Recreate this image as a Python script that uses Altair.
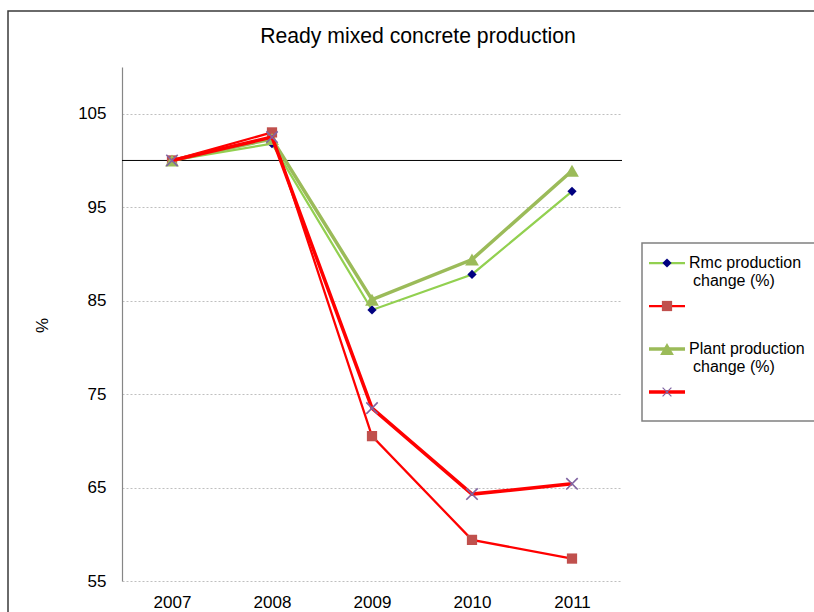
import altair as alt
import pandas as pd

# ---- data ----
years = ["2007", "2008", "2009", "2010", "2011"]
rmc = [100, 101.8, 84.0, 87.8, 96.7]
red_sq = [100, 103.0, 70.5, 59.4, 57.4]
plant = [100, 102.3, 85.1, 89.4, 98.9]
red_x = [100, 102.5, 73.5, 64.3, 65.4]
y_ticks = [55, 65, 75, 85, 95, 105]
title_text = "Ready mixed concrete production"
legend_lines = [["Rmc production", "change (%)"], [], ["Plant  production", "change (%)"], []]

FONT = "Liberation Sans"
X_PATH = "M-1,-1L1,1M1,-1L-1,1"

series = [
    dict(vals=rmc, lc="#92D050", lw=2.25, shape="diamond", mc="#000080", ms=85, filled=True),
    dict(vals=red_sq, lc="#FF0000", lw=2.25, shape="square", mc="#C0504D", ms=105, filled=True),
    dict(vals=plant, lc="#9BBB59", lw=3.5, shape="triangle-up", mc="#9BBB59", ms=190, filled=True),
    dict(vals=red_x, lc="#FF0000", lw=3.5, shape=X_PATH, mc="#8064A2", ms=130, filled=False),
]

xscale = alt.Scale(type="point", domain=years, padding=0.5)
yscale = alt.Scale(domain=[55, 110], nice=False, zero=False)
xaxis = alt.Axis(title=None, labelAngle=0, ticks=False, domain=False, grid=False,
                 labelPadding=13, labelFontSize=17, labelColor="#000000", labelFont=FONT)
yaxis = alt.Axis(values=y_ticks, grid=True, gridDash=[2, 2], gridColor="#BFBFBF", gridWidth=1,
                 ticks=False, domainColor="#868686", domainWidth=1.2,
                 labelPadding=16, labelFontSize=17, labelColor="#000000", labelFont=FONT,
                 title="%", titleFont=FONT, titleFontSize=17, titleFontWeight="normal",
                 titleColor="#000000", titleAngle=270, titleX=-80, titleY=258,
                 titleAlign="center", titleBaseline="middle")

layers = []

# reference line at 100
ref = alt.Chart(pd.DataFrame({"v": [100]})).mark_rule(color="#000000", strokeWidth=1).encode(
    y=alt.Y("v:Q", scale=yscale, axis=yaxis)
)
layers.append(ref)

for s in series:
    df = pd.DataFrame({"year": years, "value": s["vals"]})
    base = alt.Chart(df).encode(
        x=alt.X("year:O", scale=xscale, axis=xaxis, sort=years),
        y=alt.Y("value:Q", scale=yscale, axis=yaxis),
    )
    line = base.mark_line(color=s["lc"], strokeWidth=s["lw"])
    if s["filled"]:
        pts = base.mark_point(shape=s["shape"], size=s["ms"], filled=True, color=s["mc"], opacity=1)
    else:
        pts = base.mark_point(shape=s["shape"], size=s["ms"], filled=False, color=s["mc"],
                              opacity=1, strokeWidth=1.6)
    layers += [line, pts]

one = pd.DataFrame({"k": [0]})

# title
layers.append(
    alt.Chart(pd.DataFrame({"t": [title_text]})).mark_text(
        font=FONT, fontSize=21.2, color="#000000", align="center", baseline="alphabetic"
    ).encode(text="t:N", x=alt.value(296), y=alt.value(-24))
)

# outer border
layers.append(
    alt.Chart(one).mark_rect(filled=False, stroke="#3A3A3A", strokeWidth=1.5).encode(
        x=alt.value(-114), x2=alt.value(900), y=alt.value(-56), y2=alt.value(700)
    )
)

# legend box
layers.append(
    alt.Chart(one).mark_rect(filled=False, stroke="#808080", strokeWidth=1.5).encode(
        x=alt.value(520), x2=alt.value(900), y=alt.value(176), y2=alt.value(354)
    )
)

for i, s in enumerate(series):
    ly = 196 + 43 * i
    layers.append(
        alt.Chart(one).mark_rule(color=s["lc"], strokeWidth=s["lw"]).encode(
            x=alt.value(527), x2=alt.value(563), y=alt.value(ly)
        )
    )
    if s["filled"]:
        mk = alt.Chart(one).mark_point(shape=s["shape"], size=s["ms"], filled=True,
                                       color=s["mc"], opacity=1)
    else:
        mk = alt.Chart(one).mark_point(shape=s["shape"], size=s["ms"] * 0.6, filled=False,
                                       color=s["mc"], opacity=1, strokeWidth=1.2)
    layers.append(mk.encode(x=alt.value(545), y=alt.value(ly)))
    for j, txt in enumerate(legend_lines[i]):
        layers.append(
            alt.Chart(pd.DataFrame({"t": [txt]})).mark_text(
                font=FONT, fontSize=16, color="#000000", align="left", baseline="middle"
            ).encode(text="t:N", x=alt.value(567 + 4 * j), y=alt.value(ly + 18 * j))
        )

chart = alt.layer(*layers).properties(
    width=500,
    height=514,
    autosize=alt.AutoSizeParams(type="none"),
    padding={"left": 122, "top": 67, "right": 192, "bottom": 31},
    background="#FFFFFF",
).configure_view(stroke=None)

chart.save("out.html", embed_options={"renderer": "svg", "actions": False})
